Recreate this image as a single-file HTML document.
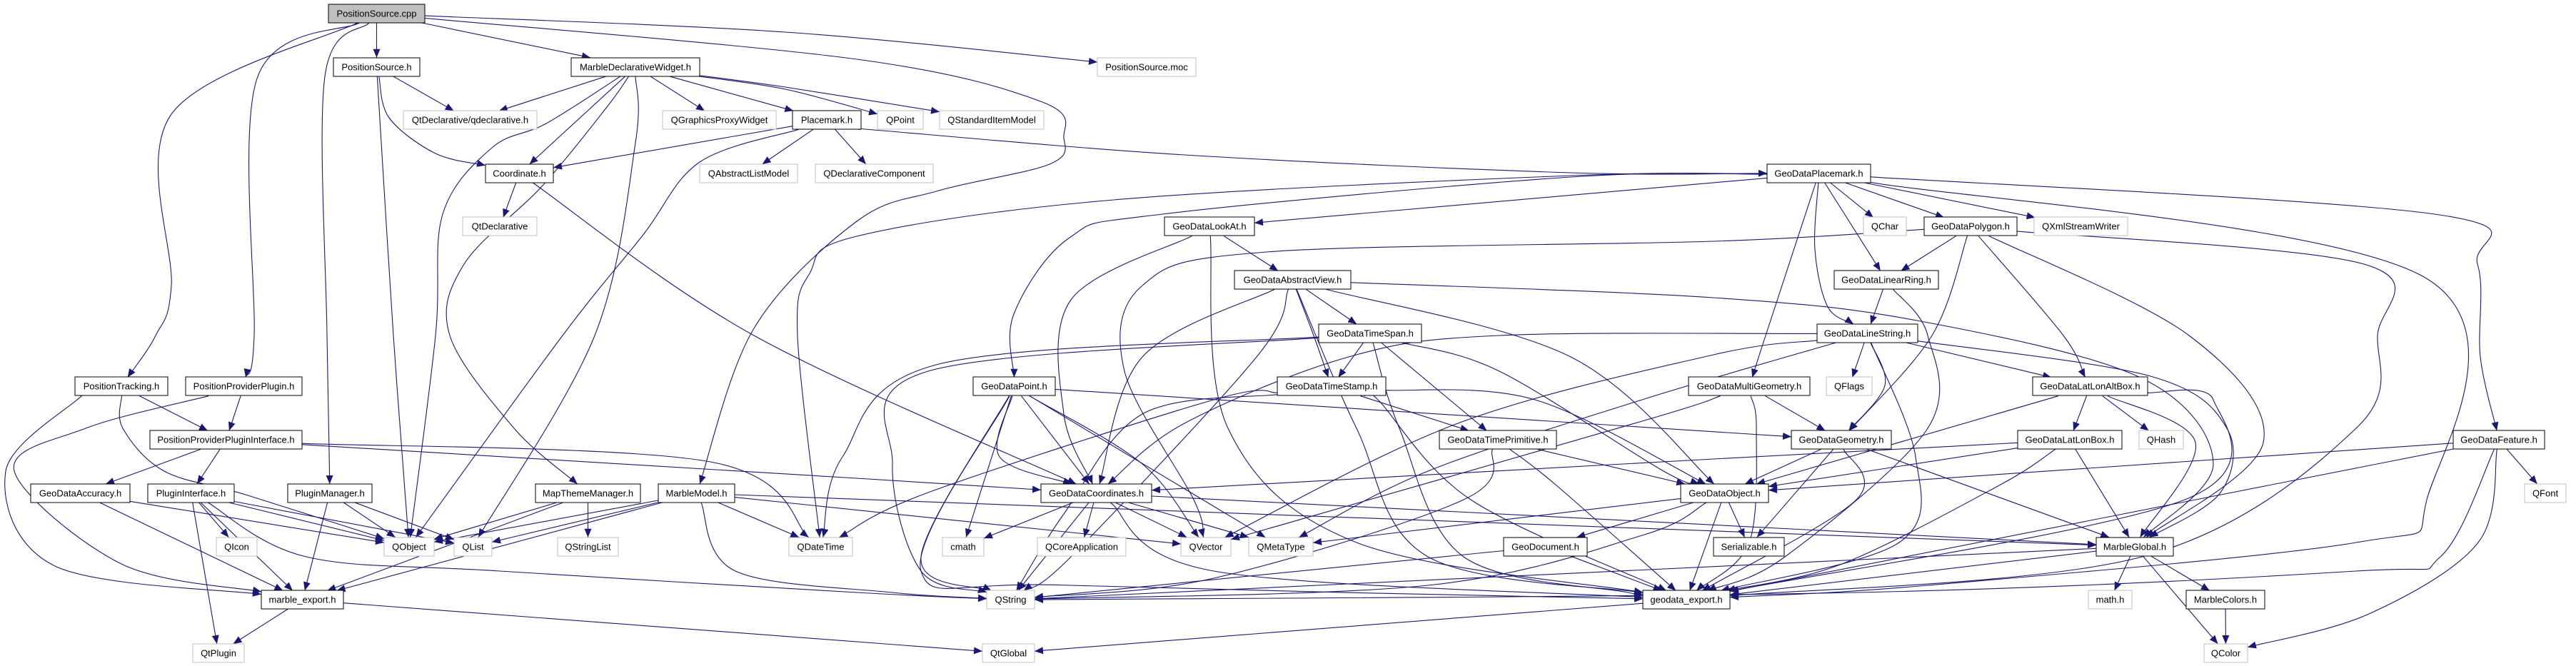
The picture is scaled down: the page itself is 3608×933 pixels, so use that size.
<!DOCTYPE html>
<html><head><meta charset="utf-8">
<style>
html,body{margin:0;padding:0;background:#fff;}
svg{display:block;}
text{font-family:"Liberation Sans",Arial,sans-serif;font-size:13px;fill:#000;}
</style></head>
<body>
<svg id="g" xmlns="http://www.w3.org/2000/svg" width="3608" height="933" viewBox="0 0 3608 933">
<defs>
<marker id="ah" markerUnits="userSpaceOnUse" markerWidth="12" markerHeight="10" refX="12" refY="5" orient="auto">
<path d="M0,0 L12,5 L0,10 z" fill="#191970"/>
</marker>
</defs>
<g id="edges" fill="none" stroke="#191970" stroke-width="1.1"></g>
<g id="nodes">
<g><rect x="460" y="6" width="135" height="26" fill="#bfbfbf" stroke="#000" stroke-width="1"/><text x="527.5" y="23.5" text-anchor="middle">PositionSource.cpp</text></g>
<g><rect x="467" y="81" width="121" height="26" fill="#fff" stroke="#000" stroke-width="1"/><text x="527.5" y="98.5" text-anchor="middle">PositionSource.h</text></g>
<g><rect x="800" y="81" width="180" height="26" fill="#fff" stroke="#000" stroke-width="1"/><text x="890" y="98.5" text-anchor="middle">MarbleDeclarativeWidget.h</text></g>
<g><rect x="1537" y="81" width="138" height="26" fill="#fff" stroke="#bfbfbf" stroke-width="1"/><text x="1606" y="98.5" text-anchor="middle">PositionSource.moc</text></g>
<g><rect x="565" y="155" width="187" height="26" fill="#fff" stroke="#bfbfbf" stroke-width="1"/><text x="658.5" y="172.5" text-anchor="middle">QtDeclarative/qdeclarative.h</text></g>
<g><rect x="928" y="155" width="159" height="26" fill="#fff" stroke="#bfbfbf" stroke-width="1"/><text x="1007.5" y="172.5" text-anchor="middle">QGraphicsProxyWidget</text></g>
<g><rect x="1110" y="155" width="96" height="26" fill="#fff" stroke="#000" stroke-width="1"/><text x="1158" y="172.5" text-anchor="middle">Placemark.h</text></g>
<g><rect x="1229" y="155" width="64" height="26" fill="#fff" stroke="#bfbfbf" stroke-width="1"/><text x="1261" y="172.5" text-anchor="middle">QPoint</text></g>
<g><rect x="1316" y="155" width="146" height="26" fill="#fff" stroke="#bfbfbf" stroke-width="1"/><text x="1389" y="172.5" text-anchor="middle">QStandardItemModel</text></g>
<g><rect x="680" y="230" width="95" height="26" fill="#fff" stroke="#000" stroke-width="1"/><text x="727.5" y="247.5" text-anchor="middle">Coordinate.h</text></g>
<g><rect x="980" y="230" width="137" height="26" fill="#fff" stroke="#bfbfbf" stroke-width="1"/><text x="1048.5" y="247.5" text-anchor="middle">QAbstractListModel</text></g>
<g><rect x="1142" y="230" width="165" height="26" fill="#fff" stroke="#bfbfbf" stroke-width="1"/><text x="1224.5" y="247.5" text-anchor="middle">QDeclarativeComponent</text></g>
<g><rect x="2475" y="230" width="145" height="26" fill="#fff" stroke="#000" stroke-width="1"/><text x="2547.5" y="247.5" text-anchor="middle">GeoDataPlacemark.h</text></g>
<g><rect x="648" y="304" width="104" height="26" fill="#fff" stroke="#bfbfbf" stroke-width="1"/><text x="700" y="321.5" text-anchor="middle">QtDeclarative</text></g>
<g><rect x="1631" y="304" width="126" height="26" fill="#fff" stroke="#000" stroke-width="1"/><text x="1694" y="321.5" text-anchor="middle">GeoDataLookAt.h</text></g>
<g><rect x="2610" y="304" width="60" height="26" fill="#fff" stroke="#bfbfbf" stroke-width="1"/><text x="2640" y="321.5" text-anchor="middle">QChar</text></g>
<g><rect x="2695" y="304" width="130" height="26" fill="#fff" stroke="#000" stroke-width="1"/><text x="2760" y="321.5" text-anchor="middle">GeoDataPolygon.h</text></g>
<g><rect x="2849" y="304" width="131" height="26" fill="#fff" stroke="#bfbfbf" stroke-width="1"/><text x="2914.5" y="321.5" text-anchor="middle">QXmlStreamWriter</text></g>
<g><rect x="1729" y="379" width="163" height="26" fill="#fff" stroke="#000" stroke-width="1"/><text x="1810.5" y="396.5" text-anchor="middle">GeoDataAbstractView.h</text></g>
<g><rect x="2569" y="379" width="146" height="26" fill="#fff" stroke="#000" stroke-width="1"/><text x="2642" y="396.5" text-anchor="middle">GeoDataLinearRing.h</text></g>
<g><rect x="1847" y="454" width="144" height="26" fill="#fff" stroke="#000" stroke-width="1"/><text x="1919" y="471.5" text-anchor="middle">GeoDataTimeSpan.h</text></g>
<g><rect x="2545" y="454" width="141" height="26" fill="#fff" stroke="#000" stroke-width="1"/><text x="2615.5" y="471.5" text-anchor="middle">GeoDataLineString.h</text></g>
<g><rect x="105" y="528" width="130" height="26" fill="#fff" stroke="#000" stroke-width="1"/><text x="170" y="545.5" text-anchor="middle">PositionTracking.h</text></g>
<g><rect x="260" y="528" width="163" height="26" fill="#fff" stroke="#000" stroke-width="1"/><text x="341.5" y="545.5" text-anchor="middle">PositionProviderPlugin.h</text></g>
<g><rect x="1363" y="528" width="115" height="26" fill="#fff" stroke="#000" stroke-width="1"/><text x="1420.5" y="545.5" text-anchor="middle">GeoDataPoint.h</text></g>
<g><rect x="1789" y="528" width="152" height="26" fill="#fff" stroke="#000" stroke-width="1"/><text x="1865" y="545.5" text-anchor="middle">GeoDataTimeStamp.h</text></g>
<g><rect x="2365" y="528" width="170" height="26" fill="#fff" stroke="#000" stroke-width="1"/><text x="2450" y="545.5" text-anchor="middle">GeoDataMultiGeometry.h</text></g>
<g><rect x="2558" y="528" width="64" height="26" fill="#fff" stroke="#bfbfbf" stroke-width="1"/><text x="2590" y="545.5" text-anchor="middle">QFlags</text></g>
<g><rect x="2847" y="528" width="161" height="26" fill="#fff" stroke="#000" stroke-width="1"/><text x="2927.5" y="545.5" text-anchor="middle">GeoDataLatLonAltBox.h</text></g>
<g><rect x="210" y="603" width="213" height="26" fill="#fff" stroke="#000" stroke-width="1"/><text x="316.5" y="620.5" text-anchor="middle">PositionProviderPluginInterface.h</text></g>
<g><rect x="2016" y="603" width="164" height="26" fill="#fff" stroke="#000" stroke-width="1"/><text x="2098" y="620.5" text-anchor="middle">GeoDataTimePrimitive.h</text></g>
<g><rect x="2509" y="603" width="140" height="26" fill="#fff" stroke="#000" stroke-width="1"/><text x="2579" y="620.5" text-anchor="middle">GeoDataGeometry.h</text></g>
<g><rect x="2826" y="603" width="146" height="26" fill="#fff" stroke="#000" stroke-width="1"/><text x="2899" y="620.5" text-anchor="middle">GeoDataLatLonBox.h</text></g>
<g><rect x="2996" y="603" width="62" height="26" fill="#fff" stroke="#bfbfbf" stroke-width="1"/><text x="3027" y="620.5" text-anchor="middle">QHash</text></g>
<g><rect x="3436" y="603" width="128" height="26" fill="#fff" stroke="#000" stroke-width="1"/><text x="3500" y="620.5" text-anchor="middle">GeoDataFeature.h</text></g>
<g><rect x="43" y="678" width="139" height="26" fill="#fff" stroke="#000" stroke-width="1"/><text x="112.5" y="695.5" text-anchor="middle">GeoDataAccuracy.h</text></g>
<g><rect x="207" y="678" width="121" height="26" fill="#fff" stroke="#000" stroke-width="1"/><text x="267.5" y="695.5" text-anchor="middle">PluginInterface.h</text></g>
<g><rect x="403" y="678" width="118" height="26" fill="#fff" stroke="#000" stroke-width="1"/><text x="462" y="695.5" text-anchor="middle">PluginManager.h</text></g>
<g><rect x="750" y="678" width="147" height="26" fill="#fff" stroke="#000" stroke-width="1"/><text x="823.5" y="695.5" text-anchor="middle">MapThemeManager.h</text></g>
<g><rect x="922" y="678" width="107" height="26" fill="#fff" stroke="#000" stroke-width="1"/><text x="975.5" y="695.5" text-anchor="middle">MarbleModel.h</text></g>
<g><rect x="1458" y="678" width="155" height="26" fill="#fff" stroke="#000" stroke-width="1"/><text x="1535.5" y="695.5" text-anchor="middle">GeoDataCoordinates.h</text></g>
<g><rect x="2354" y="678" width="123" height="26" fill="#fff" stroke="#000" stroke-width="1"/><text x="2415.5" y="695.5" text-anchor="middle">GeoDataObject.h</text></g>
<g><rect x="3536" y="678" width="58" height="26" fill="#fff" stroke="#bfbfbf" stroke-width="1"/><text x="3565" y="695.5" text-anchor="middle">QFont</text></g>
<g><rect x="303" y="753" width="57" height="26" fill="#fff" stroke="#bfbfbf" stroke-width="1"/><text x="331.5" y="770.5" text-anchor="middle">QIcon</text></g>
<g><rect x="538" y="753" width="70" height="26" fill="#fff" stroke="#bfbfbf" stroke-width="1"/><text x="573" y="770.5" text-anchor="middle">QObject</text></g>
<g><rect x="636" y="753" width="53" height="26" fill="#fff" stroke="#bfbfbf" stroke-width="1"/><text x="662.5" y="770.5" text-anchor="middle">QList</text></g>
<g><rect x="781" y="753" width="85" height="26" fill="#fff" stroke="#bfbfbf" stroke-width="1"/><text x="823.5" y="770.5" text-anchor="middle">QStringList</text></g>
<g><rect x="1105" y="753" width="89" height="26" fill="#fff" stroke="#bfbfbf" stroke-width="1"/><text x="1149.5" y="770.5" text-anchor="middle">QDateTime</text></g>
<g><rect x="1320" y="753" width="58" height="26" fill="#fff" stroke="#bfbfbf" stroke-width="1"/><text x="1349" y="770.5" text-anchor="middle">cmath</text></g>
<g><rect x="1453" y="753" width="124" height="26" fill="#fff" stroke="#bfbfbf" stroke-width="1"/><text x="1515" y="770.5" text-anchor="middle">QCoreApplication</text></g>
<g><rect x="1654" y="753" width="70" height="26" fill="#fff" stroke="#bfbfbf" stroke-width="1"/><text x="1689" y="770.5" text-anchor="middle">QVector</text></g>
<g><rect x="1749" y="753" width="90" height="26" fill="#fff" stroke="#bfbfbf" stroke-width="1"/><text x="1794" y="770.5" text-anchor="middle">QMetaType</text></g>
<g><rect x="2106" y="753" width="117" height="26" fill="#fff" stroke="#000" stroke-width="1"/><text x="2164.5" y="770.5" text-anchor="middle">GeoDocument.h</text></g>
<g><rect x="2400" y="753" width="99" height="26" fill="#fff" stroke="#000" stroke-width="1"/><text x="2449.5" y="770.5" text-anchor="middle">Serializable.h</text></g>
<g><rect x="2936" y="753" width="108" height="26" fill="#fff" stroke="#000" stroke-width="1"/><text x="2990" y="770.5" text-anchor="middle">MarbleGlobal.h</text></g>
<g><rect x="366" y="827" width="115" height="26" fill="#fff" stroke="#000" stroke-width="1"/><text x="423.5" y="844.5" text-anchor="middle">marble_export.h</text></g>
<g><rect x="1382" y="827" width="67" height="26" fill="#fff" stroke="#bfbfbf" stroke-width="1"/><text x="1415.5" y="844.5" text-anchor="middle">QString</text></g>
<g><rect x="2301" y="827" width="122" height="26" fill="#fff" stroke="#000" stroke-width="1"/><text x="2362" y="844.5" text-anchor="middle">geodata_export.h</text></g>
<g><rect x="2925" y="827" width="61" height="26" fill="#fff" stroke="#bfbfbf" stroke-width="1"/><text x="2955.5" y="844.5" text-anchor="middle">math.h</text></g>
<g><rect x="3062" y="827" width="110" height="26" fill="#fff" stroke="#000" stroke-width="1"/><text x="3117" y="844.5" text-anchor="middle">MarbleColors.h</text></g>
<g><rect x="270" y="902" width="72" height="26" fill="#fff" stroke="#bfbfbf" stroke-width="1"/><text x="306" y="919.5" text-anchor="middle">QtPlugin</text></g>
<g><rect x="1376" y="902" width="73" height="26" fill="#fff" stroke="#bfbfbf" stroke-width="1"/><text x="1412.5" y="919.5" text-anchor="middle">QtGlobal</text></g>
<g><rect x="3087" y="902" width="61" height="26" fill="#fff" stroke="#bfbfbf" stroke-width="1"/><text x="3117.5" y="919.5" text-anchor="middle">QColor</text></g>
</g>
</svg>
<script>
(function(){
var R=function(r){return 6+r*74.67;};
var N={
cpp:[460,595,0],PSh:[467,588,1],MDW:[800,980,1],moc:[1537,1675,1],qdecl:[565,752,2],QGPW:[928,1087,2],Plm:[1110,1206,2],QPoint:[1229,1293,2],QSIM:[1316,1462,2],
Coord:[680,775,3],QALM:[980,1117,3],QDC:[1142,1307,3],GDPm:[2475,2620,3],QtDecl:[648,752,4],LookAt:[1631,1757,4],QChar:[2610,2670,4],Poly:[2695,2825,4],QXSW:[2849,2980,4],
AbsV:[1729,1892,5],LRing:[2569,2715,5],TSpan:[1847,1991,6],LStr:[2545,2686,6],PTrk:[105,235,7],PPP:[260,423,7],GPoint:[1363,1478,7],TStamp:[1789,1941,7],MultiG:[2365,2535,7],
QFlags:[2558,2622,7],LLAB:[2847,3008,7],PPPI:[210,423,8],TPrim:[2016,2180,8],Geom:[2509,2649,8],LLB:[2826,2972,8],QHash:[2996,3058,8],Feat:[3436,3564,8],
Acc:[43,182,9],PI:[207,328,9],PM:[403,521,9],MTM:[750,897,9],MM:[922,1029,9],Coords:[1458,1613,9],Obj:[2354,2477,9],QFont:[3536,3594,9],
QIcon:[303,360,10],QObject:[538,608,10],QList:[636,689,10],QSL:[781,866,10],QDT:[1105,1194,10],cmath:[1320,1378,10],QCA:[1453,1577,10],QVector:[1654,1724,10],QMT:[1749,1839,10],
Doc:[2106,2223,10],Ser:[2400,2499,10],MG:[2936,3044,10],mexp:[366,481,11],QString:[1382,1449,11],gexp:[2301,2423,11],mathh:[2925,2986,11],MC:[3062,3172,11],
QtPlugin:[270,342,12],QtGlobal:[1376,1449,12],QColor:[3087,3148,12]};
var E=[
['cpp','PSh'],['cpp','MDW'],['cpp','moc',[[1100,45]]],
['cpp','MM',[[1200,83],[1460,143],[1490,193],[1470,230],[1315,267],[1200,310],[1056,460]]],
['cpp','PTrk',[[240,160],[240,400],[218,470]]],['cpp','PPP',[[360,110],[356,470]]],['cpp','PM',[[455,107],[458,470]]],
['PSh','qdecl'],['PSh','Coord',[[545,165],[610,215]]],['PSh','QObject',[[551,470]]],
['MDW','qdecl'],['MDW','Coord'],['MDW','QGPW'],['MDW','Plm'],['MDW','QPoint',[[1100,125]]],['MDW','QSIM',[[1100,122]]],
['MDW','QObject',[[765,173],[689,207],[620,300],[610,470]]],['MDW','QList',[[890,200],[833,470]]],['MDW','MTM',[[850,150],[760,260],[650,370],[630,470],[720,600]]],
['Plm','Coord'],['Plm','QALM'],['Plm','QDC'],['Plm','QObject',[[980,227],[900,330],[788,470]]],['Plm','GDPm',[[1200,180],[1659,217],[2200,242]]],
['Coord','QtDecl'],['Coord','Coords',[[1056,470]]],
['GDPm','LookAt'],['GDPm','QDT',[[2200,246],[1560,280],[1200,331],[1134,383],[1117,470]]],['GDPm','GPoint',[[2200,248],[1628,300],[1498,333],[1420,440]]],
['GDPm','MultiG',[[2473,470]]],['GDPm','LStr',[[2542,350],[2560,430]]],['GDPm','LRing'],['GDPm','QChar'],['GDPm','Poly'],['GDPm','QXSW'],
['GDPm','Feat',[[3410,300],[3470,370],[3474,500]]],['GDPm','gexp',[[3395,388],[3399,700],[3300,760],[2700,820]]],
['Poly','QVector',[[2400,338],[1774,353],[1600,400],[1575,520],[1672,700]]],['Poly','LRing'],['Poly','Geom',[[2706,470]]],['Poly','LLAB',[[2890,470]]],
['Poly','MG',[[3066,470],[3170,620]]],['Poly','gexp',[[3311,370],[3330,470],[3300,600],[3000,780]]],
['LRing','LStr'],['LRing','gexp',[[2700,470],[2700,600],[2500,780]]],
['LStr','QFlags'],['LStr','Geom',[[2640,540]]],['LStr','LLAB'],['LStr','MG',[[3012,527],[3119,600],[3110,690]]],['LStr','gexp',[[2683,640],[2660,760]]],
['LStr','Coords',[[2100,470],[1889,500],[1659,593]]],['LStr','QVector',[[2400,497],[2042,593]]],['LStr','QMT',[[2300,560],[2000,660]]],
['MultiG','Geom'],['MultiG','gexp',[[2460,600],[2450,760]]],['MultiG','QVector',[[2300,590]]],
['LLAB','LLB'],['LLAB','QHash'],['LLAB','Obj'],['LLAB','MG',[[3075,620]]],['LLAB','gexp',[[3100,560],[3060,700]]],
['Geom','Obj'],['Geom','Ser'],['Geom','MG'],['Geom','gexp',[[2600,700]]],
['LLB','Obj'],['LLB','MG'],['LLB','gexp',[[2800,680],[2580,790]]],['LLB','Coords',[[2400,643]]],
['Feat','Obj'],['Feat','QFont'],['Feat','QColor',[[3471,760],[3318,860]]],['Feat','gexp'],['Feat','QString',[[3418,780],[3300,800],[2600,830]]],
['Obj','Ser'],['Obj','gexp'],['Obj','Doc'],['Obj','QMT'],['Obj','QString',[[2300,750],[2000,820]]],
['MG','mathh'],['MG','MC'],['MG','QColor'],['MG','QString'],['MG','gexp'],
['MC','QColor'],['gexp','QtGlobal'],['Doc','gexp'],['Doc','QString'],
['TSpan','TStamp'],['TSpan','TPrim'],['TSpan','Obj',[[2100,520],[2330,660]]],['TSpan','gexp',[[1960,600],[2050,780],[2280,830]]],
['TSpan','QDT',[[1315,510],[1180,640]]],['TSpan','QString',[[1300,520],[1250,650],[1290,800]]],
['TStamp','TPrim'],['TStamp','gexp',[[1930,560],[2060,700]]],['TStamp','QDT',[[1700,560],[1300,690]]],['TStamp','QString',[[1600,580],[1490,720]]],['TStamp','Obj',[[2150,560]]],
['TPrim','Obj'],['TPrim','gexp',[[2180,680]]],['TPrim','QString',[[2050,700],[1700,810]]],
['GPoint','Coords'],['GPoint','Coords',[[1400,640]]],['GPoint','cmath'],['GPoint','QVector',[[1600,650]]],['GPoint','QMT'],['GPoint','QString',[[1290,780]]],
['GPoint','gexp',[[1290,800],[1500,820]]],['GPoint','Geom'],
['LookAt','AbsV'],['LookAt','gexp',[[1720,600],[1900,760]]],['LookAt','Coords',[[1500,420],[1490,580]]],
['AbsV','TSpan'],['AbsV','TStamp',[[1840,470]]],['AbsV','Coords',[[1600,500]]],['AbsV','Obj',[[2200,500]]],
['AbsV','MG',[[2400,417],[2690,450],[3000,530],[3100,650]]],['AbsV','gexp',[[1900,600],[2000,780]]],['AbsV','QString',[[1760,500],[1500,780]]],
['Coords','cmath'],['Coords','QCA'],['Coords','QVector'],['Coords','QMT'],['Coords','QString'],['Coords','gexp',[[1700,800]]],['Coords','MG'],
['PTrk','PPPI'],['PTrk','mexp',[[115,554],[8,660],[77,793]]],['PTrk','QObject',[[172,600],[230,660],[344,693]]],
['PPP','PPPI'],['PPP','mexp',[[120,600],[20,660],[170,790]]],
['PPPI','Acc'],['PPPI','PI'],['PPPI','QDT',[[995,647]]],['PPPI','Coords',[[1200,670]]],
['Acc','mexp'],['Acc','QObject'],
['PI','QIcon'],['PI','QtPlugin'],['PI','mexp'],['PI','QObject'],['PI','QList'],['PI','QString',[[429,780],[700,800],[1200,830]]],
['PM','QObject'],['PM','QList'],['PM','mexp'],
['MTM','QObject'],['MTM','QSL'],['MTM','mexp'],
['MM','QObject'],['MM','QList'],['MM','QDT'],['MM','mexp'],['MM','QString',[[1030,800],[1250,830]]],['MM','MG'],['MM','QVector'],
['mexp','QtGlobal'],['mexp','QtPlugin']
];
function box(n){var d=N[n];var y=R(d[2]);return {x1:d[0],x2:d[1],y1:y,y2:y+26,cx:(d[0]+d[1])/2,cy:y+13};}
function clip(b,px,py){var dx=px-b.cx,dy=py-b.cy;var hw=(b.x2-b.x1)/2,hh=13;
 var t=Math.min(dx?hw/Math.abs(dx):1e9,dy?hh/Math.abs(dy):1e9);return [b.cx+dx*t,b.cy+dy*t];}
var g=document.getElementById('edges');var ns='http://www.w3.org/2000/svg';
E.forEach(function(e){
 var s=box(e[0]),t=box(e[1]),w=e[2]||[];
 var f=w.length?w[0]:[t.cx,t.cy];var l=w.length?w[w.length-1]:[s.cx,s.cy];
 var P=[clip(s,f[0],f[1])].concat(w).concat([clip(t,l[0],l[1])]);
 var d='M'+P[0][0].toFixed(1)+','+P[0][1].toFixed(1);
 if(P.length==2){d+=' L'+P[1][0].toFixed(1)+','+P[1][1].toFixed(1);}
 else{for(var i=0;i<P.length-1;i++){var p0=P[i-1]||P[i],p1=P[i],p2=P[i+1],p3=P[i+2]||p2;
  var c1=[p1[0]+(p2[0]-p0[0])/6,p1[1]+(p2[1]-p0[1])/6],c2=[p2[0]-(p3[0]-p1[0])/6,p2[1]-(p3[1]-p1[1])/6];
  d+=' C'+c1[0].toFixed(1)+','+c1[1].toFixed(1)+' '+c2[0].toFixed(1)+','+c2[1].toFixed(1)+' '+p2[0].toFixed(1)+','+p2[1].toFixed(1);}}
 var p=document.createElementNS(ns,'path');p.setAttribute('d',d);p.setAttribute('marker-end','url(#ah)');g.appendChild(p);
});
})();
</script>
</body></html>
